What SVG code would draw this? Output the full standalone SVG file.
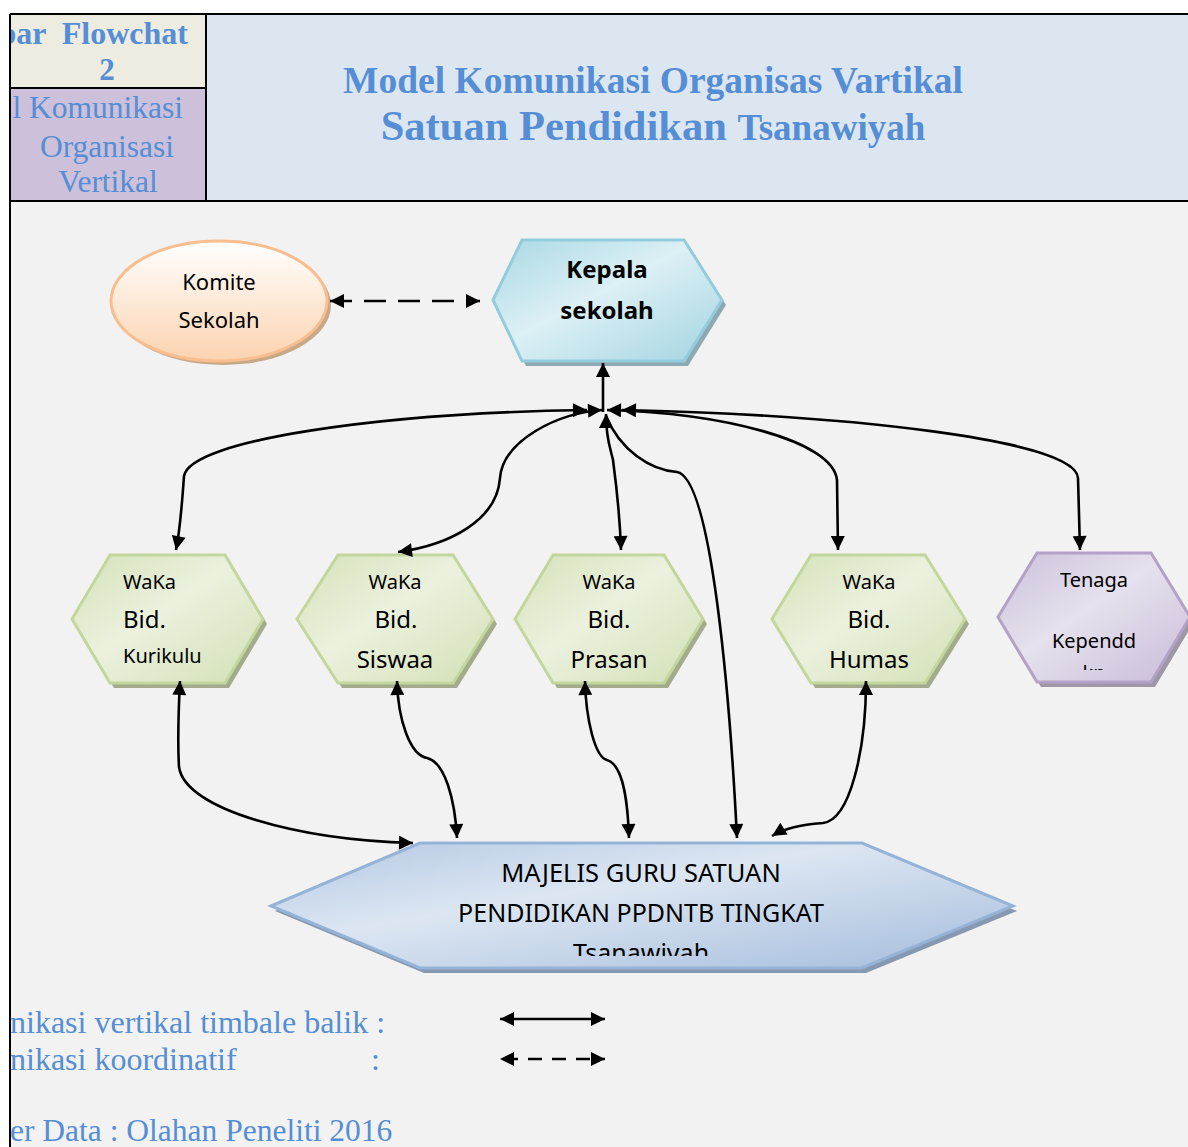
<svg xmlns="http://www.w3.org/2000/svg" width="1188" height="1147" viewBox="0 0 1188 1147">
  <style>
    .hdr { font-family: "Liberation Serif", "Times New Roman", serif; fill: #558ed5; }
    .lbl { font-family: "Noto Sans", "Open Sans", sans-serif; fill: #000; }
    .frame { stroke: #000; stroke-width: 2; fill: none; }
    .conn { fill: none; stroke: #000; stroke-width: 2.6; }
    .dash { stroke-dasharray: 22 12; }
  </style>
  <defs>
    <marker id="ah" viewBox="0 0 10 10" refX="10" refY="5" markerWidth="17" markerHeight="14" markerUnits="userSpaceOnUse" orient="auto-start-reverse">
      <path d="M0,0 L10,5 L0,10 z" fill="#000"/>
    </marker>
    <linearGradient id="gPeach" x1="0" y1="0" x2="0" y2="1">
      <stop offset="0" stop-color="#ffffff"/>
      <stop offset="1" stop-color="#fbd3b0"/>
    </linearGradient>
    <linearGradient id="gCyan" x1="0" y1="0" x2="1" y2="1">
      <stop offset="0" stop-color="#a9d8e4"/>
      <stop offset="0.45" stop-color="#dcf0f5"/>
      <stop offset="1" stop-color="#a3d4e1"/>
    </linearGradient>
    <linearGradient id="gGreen" x1="0" y1="0" x2="1" y2="1">
      <stop offset="0" stop-color="#d4e2b8"/>
      <stop offset="0.45" stop-color="#ebf1de"/>
      <stop offset="1" stop-color="#d2e0b5"/>
    </linearGradient>
    <linearGradient id="gPurple" x1="0" y1="0" x2="1" y2="1">
      <stop offset="0" stop-color="#cbc0da"/>
      <stop offset="0.45" stop-color="#e6e1ed"/>
      <stop offset="1" stop-color="#c8bcd8"/>
    </linearGradient>
    <linearGradient id="gBlue" x1="0" y1="0" x2="1" y2="1">
      <stop offset="0" stop-color="#b3c8e3"/>
      <stop offset="0.4" stop-color="#dce6f2"/>
      <stop offset="1" stop-color="#a4bcdc"/>
    </linearGradient>
    <clipPath id="clipLeft"><rect x="11" y="0" width="1177" height="1147"/></clipPath>
    <clipPath id="clipMaj"><rect x="0" y="0" width="1188" height="956"/></clipPath>
    <clipPath id="clipTen"><rect x="0" y="0" width="1188" height="670"/></clipPath>
  </defs>

  <!-- page background -->
  <rect x="0" y="0" width="1188" height="1147" fill="#ffffff"/>
  <rect x="11" y="201" width="1177" height="946" fill="#f2f2f2"/>

  <!-- header table -->
  <g id="header">
    <rect x="11" y="15" width="195" height="73" fill="#eeece1"/>
    <rect x="11" y="88" width="195" height="112" fill="#ccc0da"/>
    <rect x="206" y="15" width="982" height="185" fill="#dce6f1"/>
    <path class="frame" d="M10,14 H1188 M10,14 V1147 M10,201 H1188 M206,14 V201 M10,88 H206"/>
    <g clip-path="url(#clipLeft)">
      <text class="hdr" x="188" y="44" font-size="32" font-weight="bold" text-anchor="end" xml:space="preserve">bar  Flowchat</text>
      <text class="hdr" x="107" y="80" font-size="31" font-weight="bold" text-anchor="middle">2</text>
      <text class="hdr" x="183" y="118" font-size="31.5" text-anchor="end">l Komunikasi</text>
      <text class="hdr" x="107" y="157" font-size="31.5" text-anchor="middle">Organisasi</text>
      <text class="hdr" x="108" y="192" font-size="31.5" text-anchor="middle">Vertikal</text>
    </g>
    <text class="hdr" x="653" y="93" font-size="37.5" font-weight="bold" text-anchor="middle">Model Komunikasi Organisas Vartikal</text>
    <text class="hdr" x="653" y="140" font-weight="bold" text-anchor="middle"><tspan font-size="42.5">Satuan Pendidikan </tspan><tspan font-size="37">Tsanawiyah</tspan></text>
  </g>

  <!-- nodes -->
  <g id="komite">
    <ellipse cx="223" cy="305" rx="108" ry="60" fill="#c9a888"/>
    <ellipse cx="219" cy="301" rx="108" ry="60" fill="url(#gPeach)" stroke="#f9be8f" stroke-width="3"/>
    <text class="lbl" x="219" y="290" font-size="22" text-anchor="middle">Komite</text>
    <text class="lbl" x="219" y="328" font-size="22" text-anchor="middle">Sekolah</text>
  </g>

  <g id="kepala">
    <polygon points="497,305 526,244 688,244 726,305 688,366 526,366" fill="#8fa9b3"/>
    <polygon points="493,300 522,240 684,240 722,300 684,361 522,361" fill="url(#gCyan)" stroke="#93cddd" stroke-width="3"/>
    <text class="lbl" x="607" y="278" font-size="24" font-weight="bold" text-anchor="middle">Kepala</text>
    <text class="lbl" x="607" y="319" font-size="24" font-weight="bold" text-anchor="middle">sekolah</text>
  </g>

  <g id="waka-kurikulum">
    <polygon points="76,624 114,560 229,560 267,624 229,688 114,688" fill="#a3ab8d"/>
    <polygon points="72,619 110,555 225,555 263,619 225,683 110,683" fill="url(#gGreen)" stroke="#c3d69b" stroke-width="3"/>
    <text class="lbl" x="123" y="589" font-size="20">WaKa</text>
    <text class="lbl" x="123" y="628" font-size="24">Bid.</text>
    <text class="lbl" x="123" y="663" font-size="20">Kurikulu</text>
  </g>

  <g id="waka-kesiswaan">
    <polygon points="301,624 342,560 457,560 497,624 457,688 342,688" fill="#a3ab8d"/>
    <polygon points="297,619 338,555 453,555 493,619 453,683 338,683" fill="url(#gGreen)" stroke="#c3d69b" stroke-width="3"/>
    <text class="lbl" x="395" y="589" font-size="20" text-anchor="middle">WaKa</text>
    <text class="lbl" x="396" y="628" font-size="24" text-anchor="middle">Bid.</text>
    <text class="lbl" x="395" y="668" font-size="24" text-anchor="middle">Siswaa</text>
  </g>

  <g id="waka-prasarana">
    <polygon points="519,624 557,560 668,560 707,624 668,688 557,688" fill="#a3ab8d"/>
    <polygon points="515,619 553,555 664,555 703,619 664,683 553,683" fill="url(#gGreen)" stroke="#c3d69b" stroke-width="3"/>
    <text class="lbl" x="609" y="589" font-size="20" text-anchor="middle">WaKa</text>
    <text class="lbl" x="609" y="628" font-size="24" text-anchor="middle">Bid.</text>
    <text class="lbl" x="609" y="668" font-size="24" text-anchor="middle">Prasan</text>
  </g>

  <g id="waka-humas">
    <polygon points="776,624 815,560 929,560 969,624 929,688 815,688" fill="#a3ab8d"/>
    <polygon points="772,619 811,555 925,555 965,619 925,683 811,683" fill="url(#gGreen)" stroke="#c3d69b" stroke-width="3"/>
    <text class="lbl" x="869" y="589" font-size="20" text-anchor="middle">WaKa</text>
    <text class="lbl" x="869" y="628" font-size="24" text-anchor="middle">Bid.</text>
    <text class="lbl" x="869" y="668" font-size="24" text-anchor="middle">Humas</text>
  </g>

  <g id="tenaga-kependidikan">
    <polygon points="1002,622 1041,558 1155,558 1194,622 1155,687 1041,687" fill="#9d97a6"/>
    <polygon points="998,617 1037,553 1151,553 1190,617 1151,682 1037,682" fill="url(#gPurple)" stroke="#b3a2c7" stroke-width="3"/>
    <text class="lbl" x="1094" y="587" font-size="20" text-anchor="middle">Tenaga</text>
    <text class="lbl" x="1094" y="648" font-size="20" text-anchor="middle">Kependd</text>
    <text class="lbl" x="1094" y="680" font-size="20" text-anchor="middle" clip-path="url(#clipTen)">kn</text>
  </g>

  <g id="majelis-guru">
    <polygon points="275,911 424,848 866,848 1017,911 866,973 424,973" fill="#8799b1"/>
    <polygon points="271,906 420,843 862,843 1013,906 862,968 420,968" fill="url(#gBlue)" stroke="#95b3d7" stroke-width="3"/>
    <text class="lbl" x="641" y="882" font-size="25.5" text-anchor="middle">MAJELIS GURU SATUAN</text>
    <text class="lbl" x="641" y="922" font-size="25" text-anchor="middle">PENDIDIKAN PPDNTB TINGKAT</text>
    <text class="lbl" x="641" y="962" font-size="25" text-anchor="middle" clip-path="url(#clipMaj)">Tsanawiyah</text>
  </g>

  <!-- connectors -->
  <g id="connectors">
    <!-- Komite <-> Kepala (coordinative) -->
    <path class="conn dash" d="M330,301 H480" marker-start="url(#ah)" marker-end="url(#ah)"/>
    <!-- hub -> Kepala -->
    <path class="conn" d="M603,412 V363" marker-end="url(#ah)"/>
    <!-- hub <-> Kurikulum -->
    <path class="conn" d="M587,410 C380,413 190,440 184,476 C182,505 180,530 176,550" marker-start="url(#ah)" marker-end="url(#ah)"/>
    <!-- hub <-> Kesiswaan -->
    <path class="conn" d="M602,410 C560,412 503,440 500,478 C497,520 450,545 398,552" marker-start="url(#ah)" marker-end="url(#ah)"/>
    <!-- hub <-> Prasarana -->
    <path class="conn" d="M606,414 C606,440 611,450 613,460 C617,490 620,520 621,550" marker-start="url(#ah)" marker-end="url(#ah)"/>
    <!-- hub -> Majelis -->
    <path class="conn" d="M606,416 C620,450 650,470 677,472 C712,478 730,700 737,838" marker-end="url(#ah)"/>
    <!-- hub <-> Humas -->
    <path class="conn" d="M607,410 C720,413 833,440 837,480 L838,550" marker-start="url(#ah)" marker-end="url(#ah)"/>
    <!-- hub <-> Tenaga Kependidikan -->
    <path class="conn" d="M622,410 C850,415 1076,440 1078,478 L1080,550" marker-start="url(#ah)" marker-end="url(#ah)"/>
    <!-- Kurikulum <-> Majelis -->
    <path class="conn" d="M180,681 C178,720 178,750 179,767 C185,810 300,840 413,843" marker-start="url(#ah)" marker-end="url(#ah)"/>
    <!-- Kesiswaan <-> Majelis -->
    <path class="conn" d="M397,681 C398,720 410,755 427,758 C445,762 455,800 457,838" marker-start="url(#ah)" marker-end="url(#ah)"/>
    <!-- Prasarana <-> Majelis -->
    <path class="conn" d="M585,681 C586,720 595,757 607,760 C625,765 628,810 629,838" marker-start="url(#ah)" marker-end="url(#ah)"/>
    <!-- Humas <-> Majelis -->
    <path class="conn" d="M866,681 C866,750 850,820 823,823 C800,825 785,828 772,836" marker-start="url(#ah)" marker-end="url(#ah)"/>
  </g>

  <!-- legend -->
  <g id="legend">
    <g clip-path="url(#clipLeft)">
      <text class="hdr" x="10" y="1033" font-size="32">nikasi vertikal timbale balik :</text>
      <text class="hdr" x="10" y="1070" font-size="32">nikasi koordinatif</text>
      <text class="hdr" x="10" y="1141" font-size="31.5">er Data : Olahan Peneliti 2016</text>
    </g>
    <text class="hdr" x="371" y="1070" font-size="32">:</text>
    <path class="conn" d="M500,1019 H605" marker-start="url(#ah)" marker-end="url(#ah)"/>
    <path class="conn" d="M500,1059 H605" stroke-dasharray="14 10" stroke-dashoffset="-4" marker-start="url(#ah)" marker-end="url(#ah)"/>
  </g>
</svg>
